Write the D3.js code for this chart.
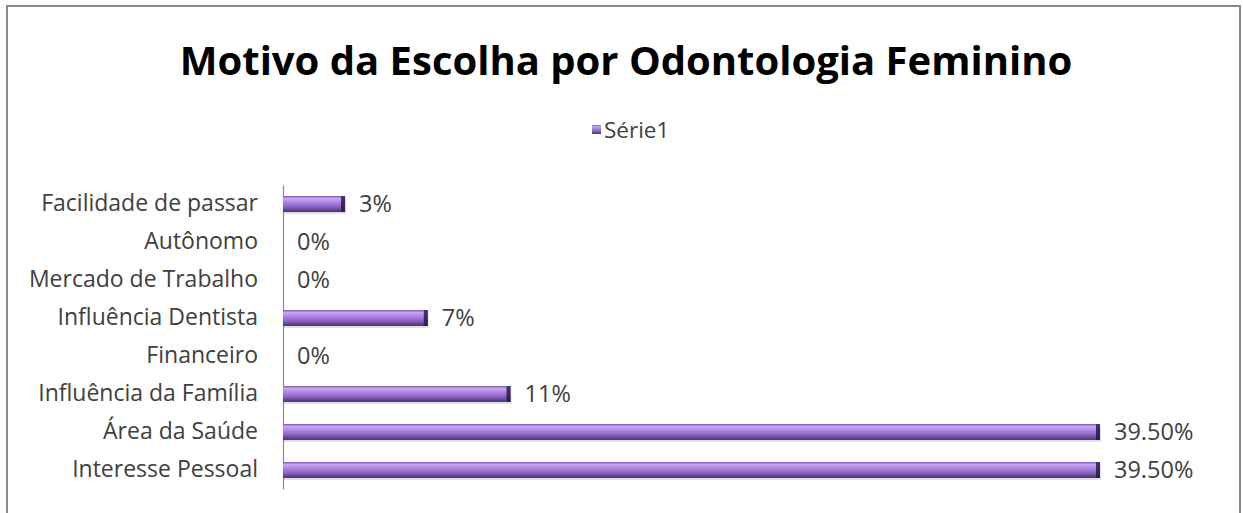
<!DOCTYPE html>
<html>
<head>
<meta charset="utf-8">
<script src="https://cdn.jsdelivr.net/npm/d3@7"></script>
<style>
  html, body { margin: 0; padding: 0; background: #fff; }
  svg { display: block; }
  text { font-family: "Open Sans", Lato, sans-serif; }
</style>
</head>
<body>
<svg id="chart" width="1243" height="513"></svg>
<script>
// Chart data
const categories = [
  "Facilidade de passar",
  "Autônomo",
  "Mercado de Trabalho",
  "Influência Dentista",
  "Financeiro",
  "Influência da Família",
  "Área da Saúde",
  "Interesse Pessoal"
];
const values = [3, 0, 0, 7, 0, 11, 39.5, 39.5];
const valueLabels = ["3%", "0%", "0%", "7%", "0%", "11%", "39.50%", "39.50%"];
const seriesName = "Série1";
const title = "Motivo da Escolha por Odontologia Feminino";

const svg = d3.select("#chart");

// Frame
svg.append("rect")
  .attr("x", 7).attr("y", 6)
  .attr("width", 1233).attr("height", 520)
  .attr("fill", "#fff")
  .attr("stroke", "#8a8a8a")
  .attr("stroke-width", 2);

// Gradient for the cylinder-like bars
const defs = svg.append("defs");
const grad = defs.append("linearGradient")
  .attr("id", "barGrad")
  .attr("x1", 0).attr("y1", 0).attr("x2", 0).attr("y2", 1);
[
  [0, "#7a56b0"],
  [0.15, "#c9a6f2"],
  [0.35, "#b48ce6"],
  [0.65, "#8e66c6"],
  [0.9, "#5f3f8c"],
  [1, "#4f3276"]
].forEach(([o, c]) => grad.append("stop").attr("offset", o).attr("stop-color", c));

const capGrad = defs.append("linearGradient")
  .attr("id", "capGrad")
  .attr("x1", 0).attr("y1", 0).attr("x2", 0).attr("y2", 1);
[
  [0, "#4a2f70"],
  [0.5, "#3d2660"],
  [1, "#2f1d4a"]
].forEach(([o, c]) => capGrad.append("stop").attr("offset", o).attr("stop-color", c));

// Title
svg.append("text")
  .attr("x", 626).attr("y", 75)
  .attr("text-anchor", "middle")
  .attr("font-size", 40)
  .attr("font-weight", "bold")
  .attr("fill", "#000")
  .text(title);

// Legend
const legend = svg.append("g");
legend.append("rect")
  .attr("x", 592).attr("y", 125)
  .attr("width", 9).attr("height", 9)
  .attr("fill", "url(#barGrad)");
legend.append("text")
  .attr("x", 604).attr("y", 138)
  .attr("font-size", 22.5)
  .attr("fill", "#404040")
  .text(seriesName);

// Scales
const x = d3.scaleLinear().domain([0, 39.5]).range([283, 1100]);
const y = d3.scaleBand()
  .domain(categories)
  .range([185, 489])
  .paddingInner(0.58)
  .paddingOuter(0.29);

// Category axis
const yAxis = d3.axisLeft(y).tickSize(0).tickPadding(25);
const ag = svg.append("g")
  .attr("transform", `translate(${x(0)},0)`)
  .call(yAxis);
ag.select(".domain").attr("stroke", "#8a8a8a").attr("stroke-width", 1.2);
ag.selectAll("text")
  .attr("font-size", 23)
  .attr("fill", "#404040")
  .style("font-family", "'Open Sans', Lato, sans-serif");

// Bars
const bars = svg.append("g");
categories.forEach((c, i) => {
  const v = values[i];
  if (v <= 0) return;
  const y0 = y(c), bw = y.bandwidth(), x0 = x(0), x1 = x(v);
  // soft shadow below
  bars.append("rect")
    .attr("x", x0 + 1).attr("y", y0 + 2)
    .attr("width", x1 - x0).attr("height", bw)
    .attr("fill", "#000").attr("opacity", 0.12);
  bars.append("rect")
    .attr("x", x0).attr("y", y0)
    .attr("width", x1 - x0).attr("height", bw)
    .attr("fill", "url(#barGrad)");
  bars.append("rect")
    .attr("x", x1 - 4).attr("y", y0)
    .attr("width", 4).attr("height", bw)
    .attr("fill", "url(#capGrad)");
});

// Value labels
svg.append("g").selectAll("text")
  .data(categories)
  .join("text")
  .attr("x", (c, i) => x(values[i]) + 14)
  .attr("y", c => y(c) + y.bandwidth() / 2)
  .attr("dy", "0.36em")
  .attr("font-size", 23.5)
  .attr("fill", "#404040")
  .text((c, i) => valueLabels[i]);
</script>
</body>
</html>
